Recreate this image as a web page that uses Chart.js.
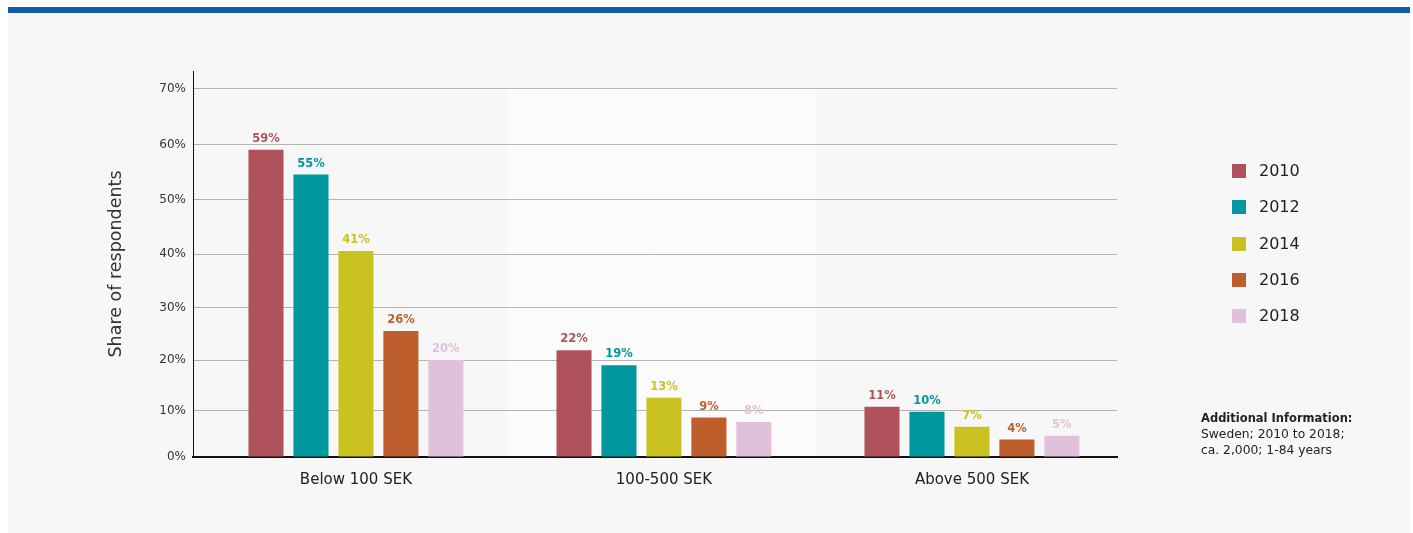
<!DOCTYPE html>
<html>
<head>
<meta charset="utf-8">
<script src="https://cdn.jsdelivr.net/npm/chart.js@4/dist/chart.umd.min.js"></script>
<style>
  body { margin: 0; background: #fff; font-family: "DejaVu Sans", sans-serif; }
  #topbar { position: absolute; left: 8px; top: 7px; width: 1402px; height: 6px; background: #125ea2; }
  #panel { position: absolute; left: 8px; top: 13px; width: 1402px; height: 520px; background: #f7f7f7; }
  #wrap { position: absolute; left: 0; top: 0; width: 1413px; height: 533px; }
  #legend { position: absolute; left: 1232px; top: 162px; }
  .item { height: 36.3px; display: flex; align-items: flex-start; }
  .box { width: 14px; height: 14px; margin-top: 2px; }
  .lbl { margin-left: 13px; font-size: 16px; line-height: 18px; color: #222; }
  #info { position: absolute; left: 1201px; top: 410px; font-size: 12.3px; line-height: 16px; color: #222; }
  #info b { font-size: 11.5px; }
</style>
</head>
<body>
<div id="topbar"></div>
<div id="panel"></div>
<div id="wrap"><canvas id="chart"></canvas></div>
<div id="legend"></div>
<div id="info"><b>Additional Information:</b><br>Sweden; 2010 to 2018;<br>ca. 2,000; 1-84 years</div>
<script>
const categories = ["Below 100 SEK", "100-500 SEK", "Above 500 SEK"];
const years = ["2010", "2012", "2014", "2016", "2018"];
const colors = ["#b0525c", "#00979e", "#c9c221", "#be5e2d", "#e1c1d9"];

const share2010 = [59.1, 21.9, 10.8];
const share2012 = [54.6, 19.0, 9.8];
const share2014 = [40.6, 12.6, 6.7];
const share2016 = [25.6, 8.6, 4.0];
const share2018 = [20.0, 7.7, 4.8];
const yTicks = [0, 10, 20, 30, 40, 50, 60, 70];

const series = [share2010, share2012, share2014, share2016, share2018];

// the source axis is slightly stretched towards the top, a power curve fits it
const POW = 1.065;
class PowerScale extends Chart.LinearScale {
  getPixelForValue(value) {
    if (value === null || value === undefined) return NaN;
    const t = Math.pow(Math.max(value - this.min, 0) / (this.max - this.min), POW);
    return this.getPixelForDecimal(t);
  }
  getValueForPixel(pixel) {
    return this.min + (this.max - this.min) * Math.pow(this.getDecimalForPixel(pixel), 1 / POW);
  }
}
PowerScale.id = "power";
PowerScale.defaults = Chart.LinearScale.defaults;
Chart.register(PowerScale);

// lighter band behind the middle group, drawn before the grid
const bandPlugin = {
  id: "band",
  beforeDraw(chart) {
    const { ctx, scales } = chart;
    const x0 = scales.x.getPixelForValue(0.49);
    const x1 = scales.x.getPixelForValue(1.49);
    const y0 = scales.y.getPixelForValue(70);
    const y1 = scales.y.getPixelForValue(0);
    ctx.save();
    ctx.fillStyle = "#fbfbfb";
    ctx.fillRect(x0, y0, x1 - x0, y1 - y0);
    ctx.restore();
  },
};

const labelPlugin = {
  id: "valueLabels",
  afterDatasetsDraw(chart) {
    const { ctx } = chart;
    ctx.save();
    ctx.font = "bold 11.5px 'DejaVu Sans'";
    ctx.textAlign = "center";
    ctx.textBaseline = "bottom";
    chart.data.datasets.forEach((ds, i) => {
      const meta = chart.getDatasetMeta(i);
      ctx.fillStyle = ds.backgroundColor;
      meta.data.forEach((bar, j) => {
        ctx.fillText(Math.round(series[i][j]) + "%", bar.x, bar.y - 5);
      });
    });
    ctx.restore();
  },
};

const ctx = document.getElementById("chart");
const chart = new Chart(ctx, {
  type: "bar",
  data: {
    datasets: years.map((year, i) => ({
      label: year,
      data: series[i].map((v, j) => ({ x: j, y: v })),
      backgroundColor: colors[i],
      borderWidth: 0,
      categoryPercentage: 0.73,
      barPercentage: 0.78,
    })),
  },
  plugins: [bandPlugin, labelPlugin],
  options: {
    animation: false,
    responsive: true,
    maintainAspectRatio: false,
    layout: { padding: { left: 100, right: 296, top: 71, bottom: 16 } },
    plugins: { legend: { display: false }, tooltip: { enabled: false } },
    scales: {
      x: {
        type: "linear",
        offset: false,
        min: -0.529,
        max: 2.471,
        grid: { display: false, drawTicks: false },
        border: { color: "#111", width: 2 },
        afterBuildTicks: (scale) => {
          scale.ticks = categories.map((c, i) => ({ value: i }));
        },
        afterFit: (scale) => { scale.height = 60; },
        ticks: {
          padding: 14,
          color: "#222",
          font: { family: "DejaVu Sans", size: 15 },
          callback: (v) => categories[v],
        },
      },
      y: {
        type: "power",
        min: 0,
        max: 73.21,
        grid: { color: "#b4b4b4", lineWidth: 1, drawTicks: false },
        border: { color: "#111", width: 1 },
        afterBuildTicks: (scale) => {
          scale.ticks = yTicks.map((v) => ({ value: v }));
        },
        afterFit: (scale) => { scale.width = 93; },
        ticks: {
          padding: 7,
          color: "#333",
          font: { family: "DejaVu Sans", size: 12 },
          callback: (v) => v + "%",
        },
        title: {
          display: true,
          text: "Share of respondents",
          color: "#333",
          padding: { top: 6, bottom: 0 },
          font: { family: "DejaVu Sans", size: 17.5, weight: "normal" },
        },
      },
    },
  },
});

const legend = document.getElementById("legend");
years.forEach((year, i) => {
  const row = document.createElement("div");
  row.className = "item";
  row.innerHTML = `<div class="box" style="background:${colors[i]}"></div><div class="lbl">${year}</div>`;
  legend.appendChild(row);
});
</script>
</body>
</html>
